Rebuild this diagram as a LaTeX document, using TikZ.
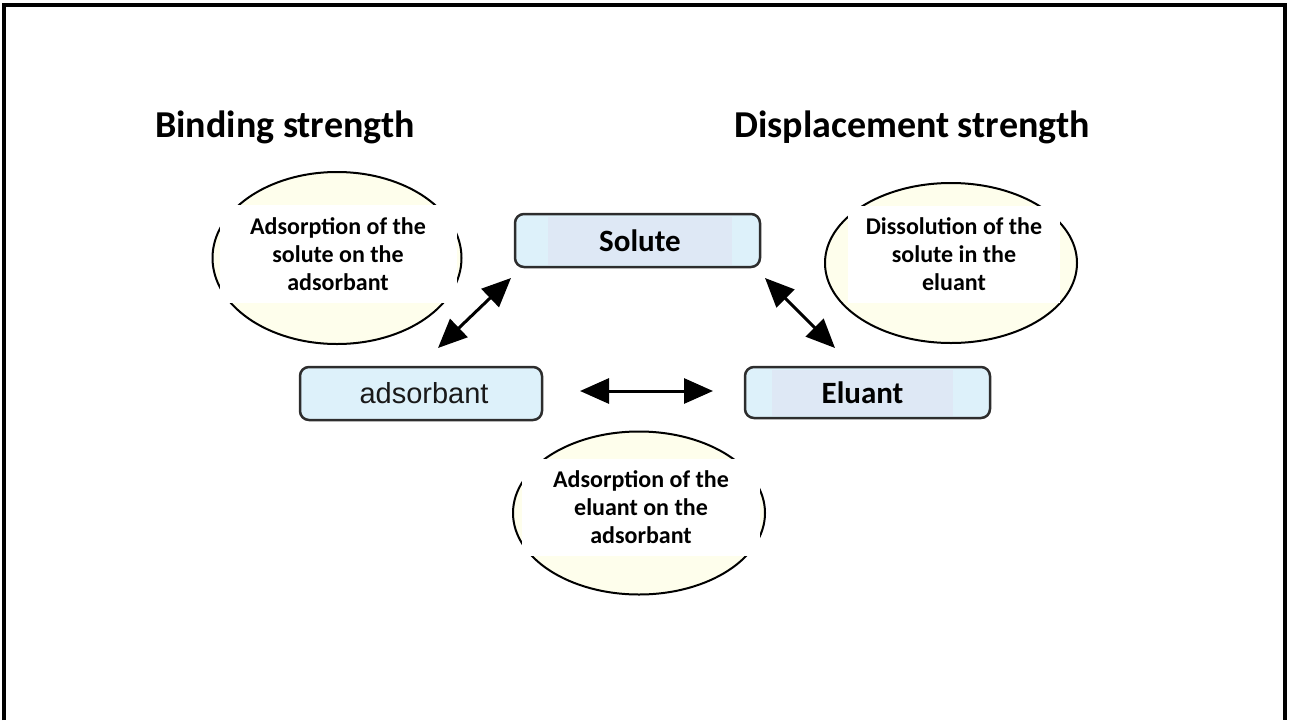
\documentclass[tikz,border=0pt]{standalone}
\usepackage{fontspec}
\setmainfont{Carlito}
\newfontfamily\arialfont{Liberation Sans}
\usetikzlibrary{arrows.meta,shapes.geometric}

\definecolor{ovalfill}{RGB}{254,254,236}
\definecolor{boxfill}{RGB}{221,241,250}
\definecolor{labelfill}{RGB}{222,232,245}
\definecolor{boxline}{RGB}{45,45,45}

\tikzset{
  oval/.style={ellipse,draw=black,line width=2pt,fill=ovalfill,inner sep=0pt},
  ovaltext/.style={fill=white,inner sep=0pt,align=center,font=\bfseries\fontsize{24}{28}\selectfont},
  tagbox/.style={draw=boxline,line width=2.5pt,rounded corners=9pt,fill=boxfill,inner sep=0pt},
  tagfill/.style={fill=labelfill,inner sep=0pt,font=\bfseries\fontsize{31}{36}\selectfont},
  heading/.style={inner sep=0pt,font=\bfseries\fontsize{38}{44}\selectfont},
  dblarrow/.style={{Triangle[length=29pt,width=25pt]}-{Triangle[length=29pt,width=25pt]},line width=3pt}
}

\begin{document}
\begin{tikzpicture}[x=1pt,y=1pt,yscale=-1]
\useasboundingbox (0,0) rectangle (1290,720);

%Frame
\draw[line width=4pt] (4,720) -- (4,5) -- (1285,5) -- (1285,720);

% Headings
\node[heading] (bindlbl) at (285,127) {Binding strength};
\node[heading] (displbl) at (912,127) {Displacement strength};

%Shape: Ellipses
\node[oval,minimum width=249pt,minimum height=172pt] (lsoval) at (337,258) {};
\node[ovaltext,minimum width=237pt,minimum height=98pt] (lstext) at (338,254) {Adsorption of the\\solute on the\\adsorbant};

\node[oval,minimum width=252pt,minimum height=160pt] (rsoval) at (951,263) {};
\node[ovaltext,minimum width=212pt,minimum height=97pt] (rstext) at (954,254) {Dissolution of the\\solute in the\\eluant};

\node[oval,minimum width=252pt,minimum height=163pt] (bsoval) at (639,513) {};
\node[ovaltext,minimum width=238pt,minimum height=97pt] (bstext) at (641,507) {Adsorption of the\\eluant on the\\adsorbant};

%Shape: Boxes
\node[tagbox,minimum width=245pt,minimum height=53pt] (solute) at (637.5,240.5) {};
\node[tagfill,minimum width=184pt,minimum height=48pt] (solutelbl) at (640,241) {Solute};

\node[tagbox,minimum width=242pt,minimum height=53pt] (adsorbant) at (421,393.5) {};
\node[inner sep=0pt,text=black!90,font=\arialfont\fontsize{29}{34}\selectfont] (adsorbantlbl) at (424,393) {adsorbant};

\node[tagbox,minimum width=245pt,minimum height=51pt] (eluant) at (867.5,392.5) {};
\node[tagfill,minimum width=181pt,minimum height=46pt] (eluantlbl) at (862.5,393) {Eluant};

%Arrows
\coordinate (a1) at (438,348);
\coordinate (a2) at (511,278);
\coordinate (b1) at (765,278);
\coordinate (b2) at (835,348);
\coordinate (c1) at (580,391);
\coordinate (c2) at (713,391);
\draw[dblarrow] (a1) -- (a2);
\draw[dblarrow] (b1) -- (b2);
\draw[dblarrow] (c1) -- (c2);

\end{tikzpicture}
\end{document}
